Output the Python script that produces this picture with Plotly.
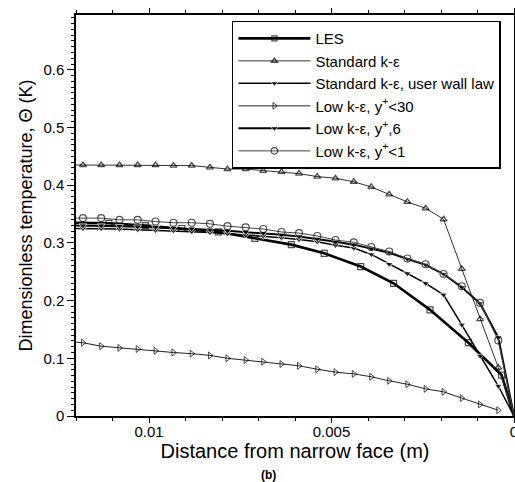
import plotly.graph_objects as go

# Shared sampling positions (distance from narrow face, m)
x_grid = [0.012, 0.01181, 0.01131, 0.01081, 0.01031, 0.00982, 0.00933, 0.00883, 0.00833,
          0.00785, 0.00735, 0.00687, 0.00637, 0.00589, 0.00539, 0.00489, 0.00439,
          0.00391, 0.00342, 0.00292, 0.00242, 0.00193, 0.00143, 0.00093, 0.00043, 0.0]

# LES positions
x_les = [0.012, 0.0111, 0.0101, 0.0091, 0.0081, 0.0071, 0.0061, 0.0052, 0.0042,
         0.0033, 0.0023, 0.00125, 0.00034, 0.0]
y_les = [0.335, 0.334, 0.330, 0.325, 0.319, 0.308, 0.297, 0.282, 0.259,
         0.230, 0.184, 0.127, 0.071, 0.0]

y_std = [0.435, 0.435, 0.435, 0.435, 0.435, 0.435, 0.434, 0.434, 0.431, 0.428, 0.428,
         0.425, 0.423, 0.420, 0.415, 0.412, 0.406, 0.397, 0.384, 0.371, 0.360,
         0.341, 0.255, 0.168, 0.084, 0.0]

y_wall = [0.325, 0.325, 0.325, 0.324, 0.323, 0.322, 0.321, 0.320, 0.318, 0.316, 0.314,
          0.312, 0.309, 0.306, 0.302, 0.296, 0.291, 0.280, 0.263, 0.247, 0.230,
          0.210, 0.158, 0.104, 0.052, 0.0]

y_low30 = [0.128, 0.127, 0.121, 0.118, 0.116, 0.113, 0.110, 0.108, 0.105, 0.100, 0.097,
           0.094, 0.090, 0.087, 0.081, 0.076, 0.073, 0.068, 0.061, 0.055, 0.047,
           0.042, 0.031, 0.020, 0.010]

y_low6 = [0.330, 0.330, 0.330, 0.329, 0.328, 0.327, 0.326, 0.325, 0.323, 0.321, 0.319,
          0.317, 0.314, 0.311, 0.307, 0.302, 0.297, 0.290, 0.283, 0.272, 0.262,
          0.246, 0.223, 0.195, 0.136, 0.0]

y_low1 = [0.343, 0.343, 0.343, 0.340, 0.340, 0.337, 0.335, 0.335, 0.333, 0.329, 0.327,
          0.324, 0.319, 0.317, 0.312, 0.305, 0.301, 0.293, 0.285, 0.273, 0.263,
          0.246, 0.225, 0.196, 0.131, 0.0]

names = ["LES", "Standard k-ε", "Standard k-ε, user wall law", "Low k-ε, y<sup>+</sup><30",
         "Low k-ε, y<sup>+</sup>,6", "Low k-ε, y<sup>+</sup><1"]

FONT = "Liberation Sans, Arial, sans-serif"


def sizes(n, s, first=True, last=True):
    arr = [s] * n
    if first:
        arr[0] = 0
    if last:
        arr[-1] = 0
    return arr


fig = go.Figure()

fig.add_trace(go.Scatter(
    x=x_les, y=y_les, name=names[0], mode="lines+markers",
    line=dict(color="black", width=2.6),
    marker=dict(symbol="square-open", size=sizes(len(x_les), 6), color="black",
                line=dict(width=1.2, color="black"))))

fig.add_trace(go.Scatter(
    x=x_grid, y=y_std, name=names[1], mode="lines+markers",
    line=dict(color="#333333", width=1),
    marker=dict(symbol="triangle-up-open", size=sizes(len(x_grid), 6), color="black",
                line=dict(width=1.3, color="black"))))

fig.add_trace(go.Scatter(
    x=x_grid, y=y_wall, name=names[2], mode="lines+markers",
    line=dict(color="black", width=1.5),
    marker=dict(symbol="triangle-down", size=sizes(len(x_grid), 7), color="black")))

fig.add_trace(go.Scatter(
    x=x_grid[:-1], y=y_low30, name=names[3], mode="lines+markers",
    line=dict(color="#222222", width=1),
    marker=dict(symbol="triangle-right-open", size=sizes(len(y_low30), 6, last=False),
                color="black", line=dict(width=1, color="black"))))

fig.add_trace(go.Scatter(
    x=x_grid, y=y_low6, name=names[4], mode="lines+markers",
    line=dict(color="black", width=2),
    marker=dict(symbol="triangle-down", size=sizes(len(x_grid), 7), color="black")))

fig.add_trace(go.Scatter(
    x=x_grid, y=y_low1, name=names[5], mode="lines+markers",
    line=dict(color="#444444", width=1),
    marker=dict(symbol="circle-open", size=sizes(len(x_grid), 7), color="black",
                line=dict(width=1.1, color="black"))))

axis_common = dict(
    showline=True, linecolor="black", linewidth=1.5, mirror="allticks",
    ticks="outside", tickwidth=1.2, tickcolor="black",
    showgrid=False, zeroline=False, automargin=False,
    tickfont=dict(family=FONT, size=15, color="black"),
)

fig.update_layout(
    width=515, height=482,
    margin=dict(l=76, r=1, t=15, b=66),
    paper_bgcolor="white", plot_bgcolor="white",
    font=dict(family=FONT, color="black"),
    showlegend=True,
    legend=dict(
        x=0.356, y=0.986, xanchor="left", yanchor="top",
        bordercolor="black", borderwidth=1.5, bgcolor="white",
        font=dict(family=FONT, size=15, color="black"),
        itemwidth=72, tracegroupgap=0,
    ),
    xaxis=dict(
        range=[0.012, 0.0], tickvals=[0.01, 0.005, 0.0], ticktext=["0.01", "0.005", "0"],
        ticklen=5, ticklabelstandoff=-4, ticklabeloverflow="allow",
        minor=dict(dtick=0.001, ticklen=3, tickwidth=1, tickcolor="black", ticks="outside"),
        title=dict(text="Distance from narrow face (m)", standoff=2,
                   font=dict(family=FONT, size=20, color="black")),
        **axis_common),
    yaxis=dict(
        range=[0.0, 0.695], tickvals=[0, 0.1, 0.2, 0.3, 0.4, 0.5, 0.6],
        ticktext=["0", "0.1", "0.2", "0.3", "0.4", "0.5", "0.6"],
        ticklen=7,
        minor=dict(dtick=0.01, ticklen=3, tickwidth=1, tickcolor="black", ticks="outside"),
        title=dict(text="Dimensionless temperature, Θ (K)", standoff=6,
                   font=dict(family=FONT, size=18, color="black")),
        **axis_common),
    annotations=[dict(text="<b>(b)</b>", xref="paper", yref="paper", x=0.44, y=-0.125,
                      xanchor="center", yanchor="top", showarrow=False,
                      font=dict(family=FONT, size=12, color="black"))],
)

fig.write_html("out.html")
